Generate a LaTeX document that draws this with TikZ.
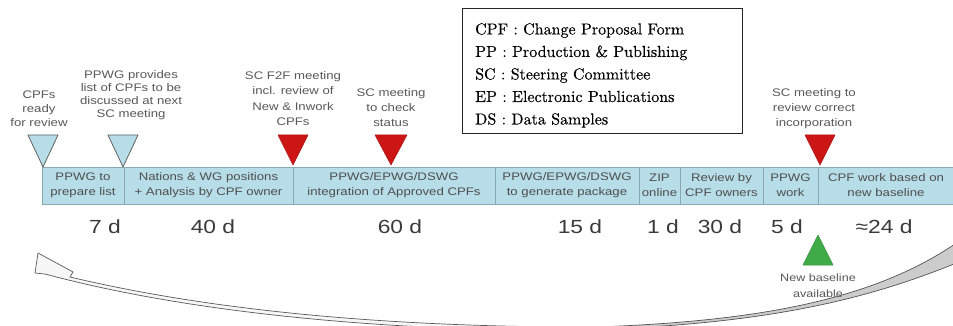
\documentclass[tikz,border=0pt]{standalone}
\usepackage{fontspec}
\newfontfamily\sansw[FakeStretch=1.2]{Liberation Sans}
\newfontfamily\legendfont{lmroman10-regular.otf}[FakeBold=0.3]
\definecolor{barfill}{RGB}{183,222,232}
\definecolor{barline}{RGB}{138,168,176}
\definecolor{redmark}{RGB}{204,22,22}
\definecolor{greenmark}{RGB}{62,170,72}
\definecolor{labeltext}{RGB}{88,88,88}
\definecolor{celltext}{RGB}{78,78,78}
\definecolor{daytext}{RGB}{58,58,58}
\begin{document}
\begin{tikzpicture}[x=1pt,y=-1pt,
  cell/.style={rectangle, fill=barfill, draw=barline, line width=0.8pt,
    minimum height=37pt, inner sep=0pt, align=center,
    font=\sansw\fontsize{11}{15}\selectfont, text=celltext},
  toplabel/.style={anchor=north, inner sep=0pt, align=center, text=labeltext},
  days/.style={inner sep=0pt, font=\sansw\fontsize{19}{22}\selectfont, text=daytext},
  bluetri/.style={fill=barfill, draw=gray!75!black, line width=0.8pt, line join=round},
  redtri/.style={fill=redmark, draw=redmark!85!black, line width=0.5pt, line join=round},
  greentri/.style={fill=greenmark, draw=greenmark!85!black, line width=0.5pt, line join=round},
  frontband/.style={fill=gray!6, draw=gray!70!black, line width=0.7pt, line join=round},
  backband/.style={fill=gray!40, draw=gray!65!black, line width=0.7pt, line join=round},
  declare function={
    % lower and upper edges of the front face of the return arrow
    lox(\s)=(1-\s)*(1-\s)*(1-\s)*560+3*(1-\s)*(1-\s)*\s*330+3*(1-\s)*\s*\s*160+\s*\s*\s*45;
    loy(\s)=(1-\s)*(1-\s)*(1-\s)*331+3*(1-\s)*(1-\s)*\s*329+3*(1-\s)*\s*\s*305+\s*\s*\s*274;
    upx(\s)=(1-\s)*(1-\s)*(1-\s)*560+3*(1-\s)*(1-\s)*\s*330+3*(1-\s)*\s*\s*175+\s*\s*\s*70;
    upy(\s)=(1-\s)*(1-\s)*(1-\s)*327+3*(1-\s)*(1-\s)*\s*325+3*(1-\s)*\s*\s*302+\s*\s*\s*277;
    % centre line and width of the back face
    rx(\s)=(1-\s)*(1-\s)*(1-\s)*560+3*(1-\s)*(1-\s)*\s*760+3*(1-\s)*\s*\s*880+\s*\s*\s*965;
    ry(\s)=(1-\s)*(1-\s)*(1-\s)*329+3*(1-\s)*(1-\s)*\s*325+3*(1-\s)*\s*\s*300+\s*\s*\s*238;
    rw(\s)=1.5+20*\s*\s*\s*\s;
  }]
\useasboundingbox (0,0) rectangle (953,326);
\begin{scope}
\clip (0,0) rectangle (953,326);

% return arrow of the cycle: front face on the left, back face on the right
\filldraw[frontband]
  plot[domain=0:1, samples=60] ({lox(\x)},{loy(\x)})
  -- (35,273) -- (38,253) -- (73,272) -- (70,277)
  -- plot[domain=1:0, samples=60] ({upx(\x)},{upy(\x)}) -- cycle;
\filldraw[backband]
  plot[domain=0:1, samples=60] ({rx(\x)},{ry(\x)-1})
  -- plot[domain=1:0, samples=60] ({rx(\x)},{ry(\x)+rw(\x)}) -- cycle;

% process bar
\node[cell, minimum width=82pt]  (c1) at (83,185.5)    {PPWG to\\prepare list};
\node[cell, minimum width=169pt] (c2) at (208.5,185.5) {Nations \& WG positions\\+ Analysis by CPF owner};
\node[cell, minimum width=202pt] (c3) at (394,185.5)   {PPWG/EPWG/DSWG\\integration of Approved CPFs};
\node[cell, minimum width=144pt] (c4) at (567,185.5)   {PPWG/EPWG/DSWG\\to generate package};
\node[cell, minimum width=41pt]  (c5) at (659.5,185.5) {ZIP\\online};
\node[cell, minimum width=83pt]  (c6) at (721.5,185.5) {Review by\\CPF owners};
\node[cell, minimum width=55pt]  (c7) at (790.5,185.5) {PPWG\\work};
\node[cell, minimum width=150pt] (c8) at (893,185.5)   {};
\end{scope}
\node[inner sep=0pt, align=center, font=\sansw\fontsize{11}{15}\selectfont, text=celltext]
  (c8text) at (886,185.5) {CPF work based on\\new baseline};

% milestone markers
\filldraw[bluetri] (28,135) -- (58,135) -- (43,167) -- cycle;
\filldraw[bluetri] (108,135) -- (138,135) -- (123,167) -- cycle;
\filldraw[redtri] (278,135) -- (308,135) -- (293,165) -- cycle;
\filldraw[redtri] (375,135) -- (407,135) -- (391,165) -- cycle;
\filldraw[redtri] (805,135) -- (835,135) -- (820,165) -- cycle;
\filldraw[greentri] (818,235) -- (833,265) -- (803,265) -- cycle;

% milestone texts
\node[toplabel, font=\sansw\fontsize{11}{14}\selectfont]   (m1) at (39,91)  {CPFs\\ready\\for review};
\node[toplabel, font=\sansw\fontsize{11}{13}\selectfont]   (m2) at (131,70) {PPWG provides\\list of CPFs to be\\discussed at next\\SC meeting};
\node[toplabel, font=\sansw\fontsize{11}{15.5}\selectfont] (m3) at (293,71) {SC F2F meeting\\incl. review of\\New \& Inwork\\CPFs};
\node[toplabel, font=\sansw\fontsize{11}{15}\selectfont]   (m4) at (391,88) {SC meeting\\to check\\status};
\node[toplabel, font=\sansw\fontsize{11}{15}\selectfont]   (m5) at (814,88) {SC meeting to\\review correct\\incorporation};
\node[inner sep=0pt, align=center, font=\sansw\fontsize{10.5}{16}\selectfont, text=labeltext]
  (m6) at (818,286) {New baseline\\available};

% durations
\node[days] (d1) at (105,227) {7 d};
\node[days] (d2) at (213,227) {40 d};
\node[days] (d3) at (400,227) {60 d};
\node[days] (d4) at (580,227) {15 d};
\node[days] (d5) at (663,227) {1 d};
\node[days] (d6) at (720,227) {30 d};
\node[days] (d7) at (787,227) {5 d};
\node[days] (d8) at (884,227) {≈24 d};

% abbreviations
\node[draw=black!85, line width=0.9pt, minimum width=280pt, minimum height=125pt,
  inner sep=0pt, anchor=north west] (legend) at (462,8) {};
\node[anchor=north west, inner sep=0pt, align=left,
  font=\legendfont\fontsize{16}{22.5}\selectfont] (legendtext) at (475,23)
  {CPF : Change Proposal Form\\PP : Production \& Publishing\\SC : Steering Committee\\EP : Electronic Publications\\DS : Data Samples};
\end{tikzpicture}
\end{document}
